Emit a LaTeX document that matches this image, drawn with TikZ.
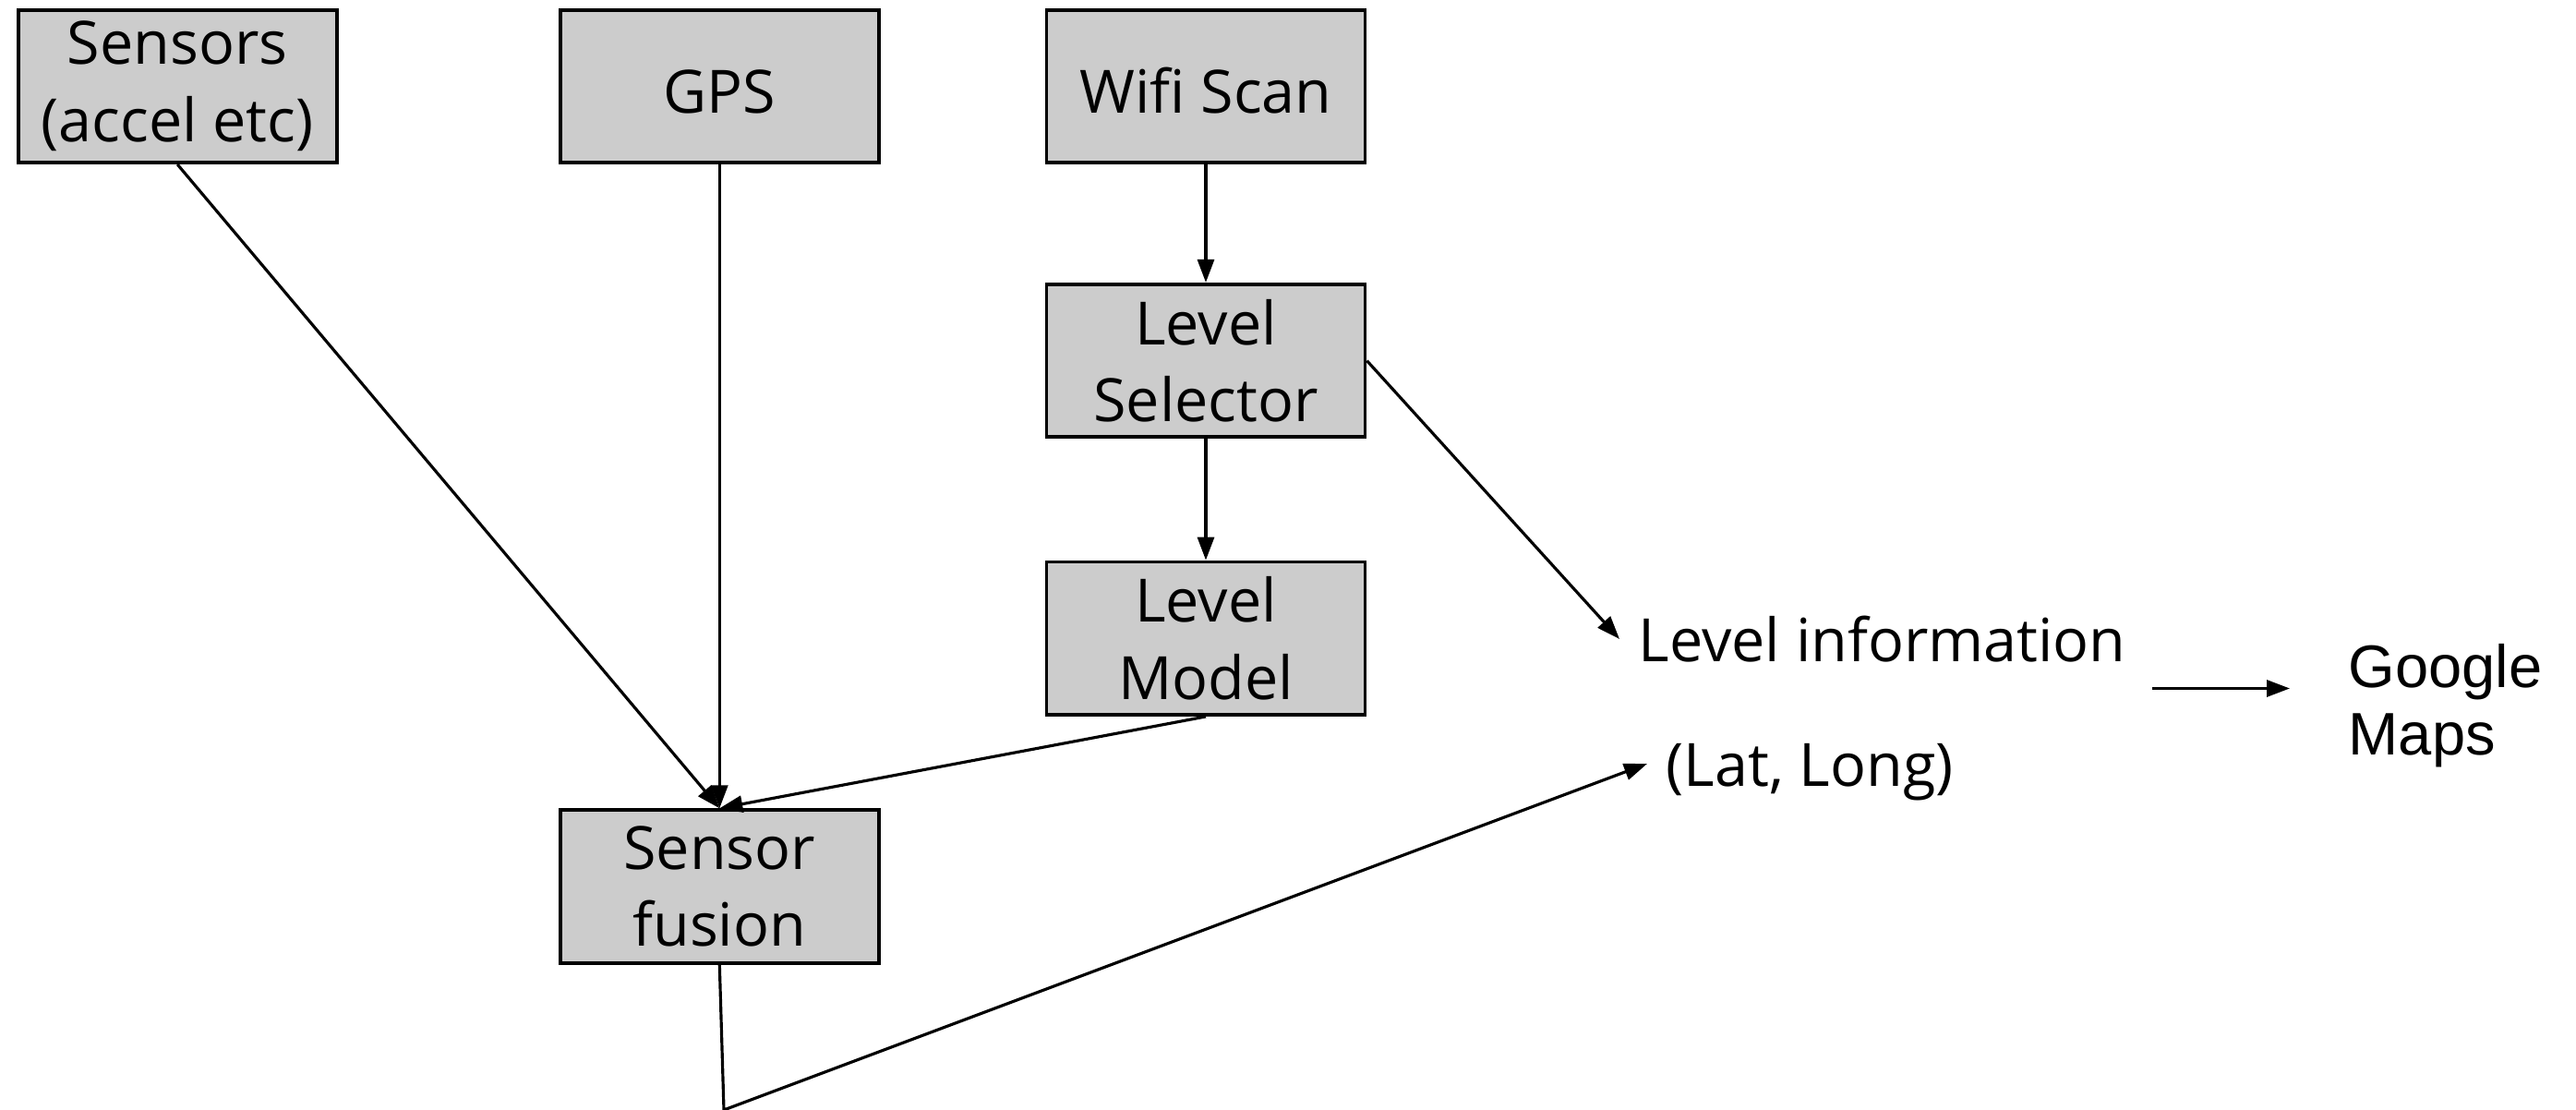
\documentclass[tikz,border=0pt]{standalone}
\usepackage{fontspec}
\setmainfont{Open Sans}
\newfontfamily\arialfont{Liberation Sans}
\usetikzlibrary{arrows.meta}
\definecolor{boxgray}{HTML}{CCCCCC}

\begin{document}
\begin{tikzpicture}[block/.style={rectangle, draw, fill=boxgray,
      line width=1.1pt, minimum width=3.45cm, minimum height=1.655cm,
      align=center, inner sep=0pt, font=\fontsize{18.4}{23.8}\selectfont,
      execute at begin node={\rule{0pt}{16.5pt}}},
    infotext/.style={inner sep=0pt, anchor=west,
      font=\fontsize{18.4}{23.8}\selectfont}]
    \useasboundingbox (0,0) rectangle (27.9,-12.02);
    \begin{scope}[every node/.style={block}]
      \node (sensors) at (1.922,-0.934) {Sensors\\(accel etc)}; \node
      (gps) at (7.793,-0.934) {GPS}; \node (wifi) at (13.06,-0.934)
      {Wifi Scan}; \node (selector) at (13.06,-3.906) {Level\\Selector};
      \node (model) at (13.06,-6.913) {Level\\Model}; \node (fusion) at
      (7.793,-9.60) {Sensor\\fusion};
    \end{scope}
    \node [infotext] (info) at (17.74,-6.92) {Level information}; \node
    [infotext] (latlong) at (18.04,-8.36) {(Lat, Long)}; \node
    [inner sep=0pt, anchor=west, align=left,
    font=\arialfont\fontsize{18.5}{20.8}\selectfont] (maps) at
    (25.43,-7.64) {Google\\Maps};
    \coordinate (bottom) at (7.84,-12.02); \coordinate (mapsout) at
    (23.31,-7.455); \coordinate (mapsin) at (24.80,-7.455);
    \begin{scope}[-{Triangle[length=0.25cm, width=0.18cm]},
      line width=0.9pt]
      \draw (sensors.south) to (fusion.north); \draw (gps) to
      (fusion); \draw (wifi) to (selector); \draw (selector) to
      (model); \draw (model.south) to (fusion.north); \draw
      (selector.east) to ([xshift=-0.2cm]info.west); \draw
      (fusion.south) -- (bottom) -- ([xshift=-0.2cm,yshift=0.09cm]latlong.west);
      \draw (mapsout) to (mapsin);
    \end{scope}
  \end{tikzpicture}
\end{document}
